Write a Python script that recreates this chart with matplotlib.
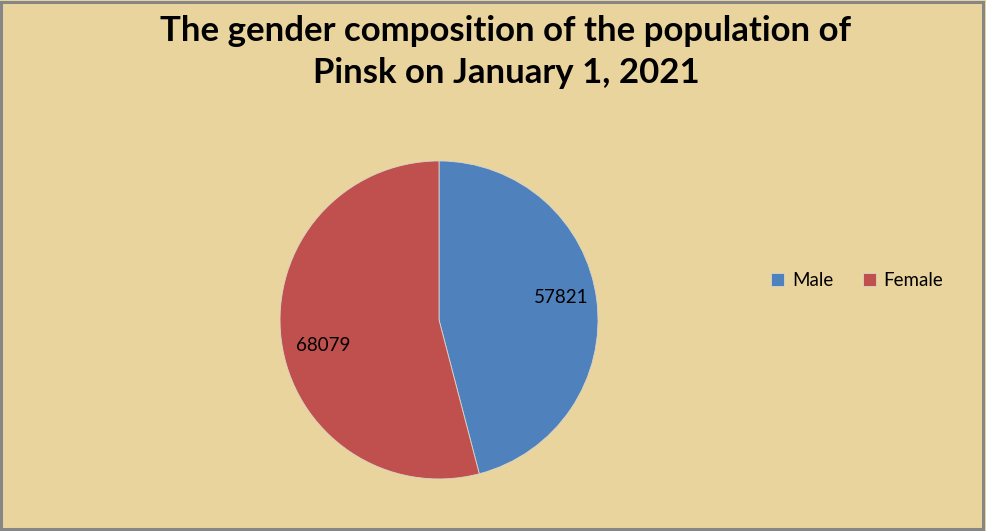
import matplotlib.pyplot as plt
from matplotlib.patches import Rectangle

# data
genders = ["Male", "Female"]
population = [57821, 68079]
colors = ["#4F81BD", "#C0504D"]
title = "The gender composition of the population of\nPinsk on January 1, 2021"

bg = "#EAD49E"
total = sum(population)

fig = plt.figure(figsize=(9.86, 5.31), dpi=100)
fig.patch.set_facecolor(bg)

ax = fig.add_axes([0.2840, 0.0980, 0.3225, 0.5989])
ax.set_facecolor(bg)
wedges, texts, autotexts = ax.pie(
    population,
    colors=colors,
    startangle=90,
    counterclock=False,
    autopct=lambda p: "%d" % round(p * total / 100.0),
    pctdistance=0.78,
    wedgeprops=dict(edgecolor="#d9d4c8", linewidth=0.6),
    textprops=dict(fontsize=13.5, family="Lato", color="black"),
)
# nudge the value labels a bit, like the original layout
autotexts[0].set_position((0.77, 0.14))
autotexts[1].set_position((-0.73, -0.16))
ax.set_xlim(-1, 1)
ax.set_ylim(-1, 1)
ax.set_aspect("equal")

fig.text(0.513, 0.902, title, ha="center", va="center",
         fontsize=25, fontweight="bold", family="Lato", linespacing=1.4)

leg = fig.legend(wedges, genders, loc="center left",
                 bbox_to_anchor=(0.765, 0.471), ncol=2, frameon=False,
                 handlelength=0.7, handleheight=0.7, handletextpad=0.4,
                 columnspacing=1.6, prop=dict(family="Lato", size=13.5))

# grey frame around the chart area
fig.patches.append(Rectangle((0.0015, 0.003), 0.995, 0.993, transform=fig.transFigure,
                             fill=False, edgecolor="#868686", linewidth=2.2))

fig.savefig("out.png", dpi=100, facecolor=bg)
